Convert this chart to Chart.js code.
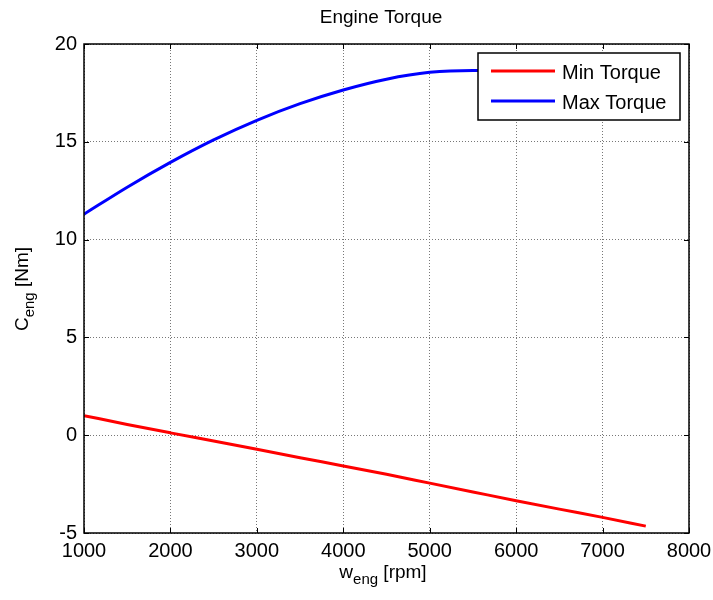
<!DOCTYPE html>
<html>
<head>
<meta charset="utf-8">
<script src="https://cdn.jsdelivr.net/npm/chart.js@4/dist/chart.umd.min.js"></script>
<style>
  html, body { margin: 0; padding: 0; background: #fff; }
  #wrap { width: 713px; height: 600px; }
</style>
</head>
<body>
<div id="wrap"><canvas id="torqueChart" width="713" height="600"></canvas></div>
<script>
// engine speed, rpm
const speedRpm = [1000, 1500, 2000, 2500, 3000, 3500, 4000, 4500, 5000, 5500, 6000, 6500, 7000, 7500];
// torque, Nm
const minTorque = [1.0, 0.55, 0.12, -0.3, -0.72, -1.15, -1.57, -2.0, -2.45, -2.9, -3.35, -3.78, -4.2, -4.65];
const maxTorque = [11.3, 12.68, 13.95, 15.1, 16.1, 16.95, 17.65, 18.2, 18.55, 18.65, 18.65, 18.65, 18.65, 18.65];

const xTicks = [1000, 2000, 3000, 4000, 5000, 6000, 7000, 8000];
const yTicks = [-5, 0, 5, 10, 15, 20];

const seriesNames = ['Min Torque', 'Max Torque'];
const seriesColors = ['#ff0000', '#0000ff'];

const FONT = '"Liberation Sans", Arial, sans-serif';

// box round the plot, inward ticks, titles and legend, drawn like matlab does
const matlabFrame = {
    id: 'matlabFrame',
    beforeDatasetsDraw(chart) {
        const {ctx, chartArea: a, scales} = chart;
        ctx.save();
        ctx.strokeStyle = '#000';
        ctx.lineWidth = 1;
        ctx.beginPath();
        xTicks.forEach(v => {
            const x = Math.round(scales.x.getPixelForValue(v)) + 0.5;
            ctx.moveTo(x, a.bottom); ctx.lineTo(x, a.bottom - 5);
            ctx.moveTo(x, a.top); ctx.lineTo(x, a.top + 5);
        });
        yTicks.forEach(v => {
            const y = Math.round(scales.y.getPixelForValue(v)) + 0.5;
            ctx.moveTo(a.left, y); ctx.lineTo(a.left + 5, y);
            ctx.moveTo(a.right, y); ctx.lineTo(a.right - 5, y);
        });
        ctx.stroke();
        ctx.restore();
    },
    afterDatasetsDraw(chart) {
        const {ctx, chartArea: a} = chart;
        ctx.save();
        ctx.strokeStyle = '#000';
        ctx.lineWidth = 1.5;
        ctx.strokeRect(a.left, a.top, a.right - a.left, a.bottom - a.top);

        // title
        ctx.fillStyle = '#000';
        ctx.textAlign = 'center';
        ctx.textBaseline = 'middle';
        ctx.font = '19px ' + FONT;
        ctx.fillText('Engine Torque', 381, 18);

        // x label with subscript
        drawSubLabel(ctx, 'w', 'eng', ' [rpm]', 383, 578);
        // y label, rotated
        ctx.save();
        ctx.translate(28, 289);
        ctx.rotate(-Math.PI / 2);
        drawSubLabel(ctx, 'C', 'eng', ' [Nm]', 0, 0);
        ctx.restore();

        // legend box in the upper right corner
        const lx = 478, ly = 53, lw = 202, lh = 67;
        ctx.fillStyle = '#fff';
        ctx.fillRect(lx, ly, lw, lh);
        ctx.lineWidth = 1.5;
        ctx.strokeRect(lx, ly, lw, lh);
        seriesNames.forEach((name, i) => {
            const y = ly + 18 + i * 30;
            ctx.strokeStyle = seriesColors[i];
            ctx.lineWidth = 3;
            ctx.beginPath();
            ctx.moveTo(491, y); ctx.lineTo(555, y);
            ctx.stroke();
            ctx.fillStyle = '#000';
            ctx.font = '20px ' + FONT;
            ctx.textAlign = 'left';
            ctx.textBaseline = 'middle';
            ctx.fillText(name, 562, y + 2);
        });
        ctx.restore();
    }
};

function drawSubLabel(ctx, main, sub, rest, cx, cy) {
    const big = '19px ' + FONT, small = '15px ' + FONT;
    ctx.font = big;
    const w1 = ctx.measureText(main).width;
    const w3 = ctx.measureText(rest).width;
    ctx.font = small;
    const w2 = ctx.measureText(sub).width;
    let x = cx - (w1 + w2 + w3) / 2;
    ctx.fillStyle = '#000';
    ctx.textAlign = 'left';
    ctx.textBaseline = 'alphabetic';
    ctx.font = big;
    ctx.fillText(main, x, cy);
    x += w1;
    ctx.font = small;
    ctx.fillText(sub, x, cy + 6);
    x += w2;
    ctx.font = big;
    ctx.fillText(rest, x, cy);
}

const datasets = [minTorque, maxTorque].map((vals, i) => ({
    label: seriesNames[i],
    data: speedRpm.map((s, j) => ({x: s, y: vals[j]})),
    borderColor: seriesColors[i],
    backgroundColor: seriesColors[i],
    borderWidth: 3,
    pointRadius: 0,
    cubicInterpolationMode: 'monotone',
    fill: false
}));

const gridOpts = {
    color: '#777',
    lineWidth: 1,
    drawTicks: false
};

new Chart(document.getElementById('torqueChart').getContext('2d'), {
    type: 'line',
    data: {datasets},
    options: {
        responsive: false,
        animation: false,
        events: [],
        layout: {padding: {left: 0, top: 44, right: 24, bottom: 0}},
        plugins: {
            legend: {display: false},
            tooltip: {enabled: false},
            title: {display: false}
        },
        scales: {
            x: {
                type: 'linear',
                min: 1000,
                max: 8000,
                afterBuildTicks: s => { s.ticks = xTicks.map(v => ({value: v})); },
                afterFit: s => { s.height = 67; s.paddingLeft = 0; s.paddingRight = 0; },
                grid: gridOpts,
                border: {display: false, dash: [1, 2]},
                ticks: {
                    color: '#000',
                    padding: 6,
                    maxRotation: 0,
                    callback: v => String(v),
                    font: {family: FONT, size: 20}
                }
            },
            y: {
                min: -5,
                max: 20,
                afterBuildTicks: s => { s.ticks = yTicks.map(v => ({value: v})); },
                afterFit: s => { s.width = 84; s.paddingTop = 0; s.paddingBottom = 0; },
                grid: gridOpts,
                border: {display: false, dash: [1, 2]},
                ticks: {
                    color: '#000',
                    padding: 7,
                    callback: v => String(v),
                    font: {family: FONT, size: 20}
                }
            }
        }
    },
    plugins: [matlabFrame]
});
</script>
</body>
</html>
